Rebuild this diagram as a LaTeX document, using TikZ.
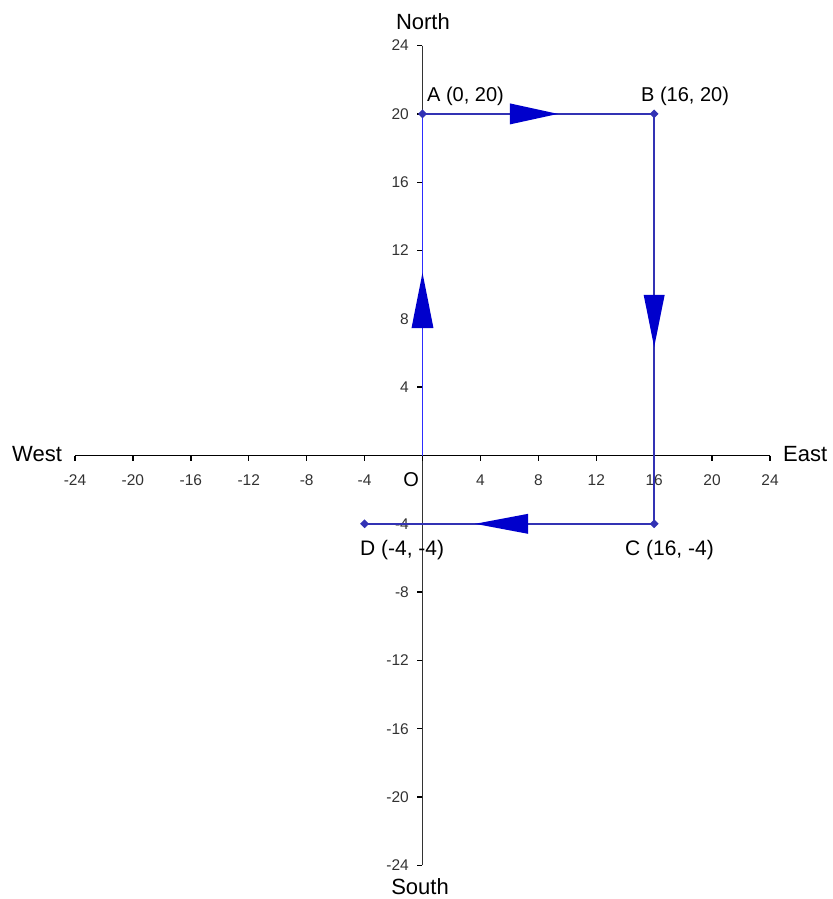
\documentclass[tikz,border=0pt]{standalone}
\usepackage{fontspec}
\setmainfont{Liberation Sans}
\usetikzlibrary{shapes.geometric}
\definecolor{routeblue}{RGB}{50,50,180}
\definecolor{oablue}{RGB}{45,45,255}
\definecolor{headblue}{RGB}{0,0,204}
\definecolor{ticktext}{RGB}{50,50,50}
\begin{document}
\begin{tikzpicture}[x=14.48pt,y=17.08pt,
  axisline/.style={line width=1.8pt,black},
  yaxisline/.style={line width=1.8pt,black!80},
  tickmark/.style={line width=1.4pt,black},
  ticklab/.style={font=\fontsize{15.5}{15.5}\selectfont,text=ticktext,inner sep=0pt},
  dirlab/.style={font=\fontsize{22}{22}\selectfont,inner sep=0pt},
  ptlab/.style={font=\fontsize{21}{21}\selectfont,inner sep=0pt,anchor=base west},
  route/.style={line width=1.8pt,routeblue},
  oaroute/.style={line width=1.8pt,oablue},
  headfill/.style={fill=headblue},
  mk/.style={diamond,fill=routeblue,inner sep=0pt,minimum size=9pt}]
\useasboundingbox (-29.178,-25.966) rectangle (28.349,26.669);
% axes
\coordinate (xl) at (-24,0);
\coordinate (xr) at (24,0);
\coordinate (yt) at (0,24);
\coordinate (yb) at (0,-24);
\draw[axisline] (xl) -- (xr);
\draw[yaxisline] (yt) -- (yb);
\foreach \v in {-24,-20,...,24}{
  \draw[tickmark] (\v,0) -- ++(0,-5pt);
  \draw[tickmark] (0,\v) -- ++(-5pt,0);
}
\foreach \v in {-24,-20,-16,-12,-8,-4,4,8,12,16,20,24}{
  \node[ticklab] at ([yshift=-25pt]\v,0) {\v};
  \node[ticklab,anchor=east] at ([xshift=-13.5pt]0,\v) {\v};
}
% direction labels
\node[dirlab] (north) at (0.03,25.38) {North};
\node[dirlab] (south) at (-0.17,-25.26) {South};
\node[dirlab,anchor=west] (west) at (-28.35,0.09) {West};
\node[dirlab,anchor=west] (east) at (24.9,0.09) {East};
\node[font=\fontsize{20}{20}\selectfont,inner sep=0pt] (olab) at (-0.79,-1.43) {O};
% route
\coordinate (O) at (0,0);
\coordinate (A) at (0,20);
\coordinate (B) at (16,20);
\coordinate (C) at (16,-4);
\coordinate (D) at (-4,-4);
\draw[oaroute] (O) -- (A);
\draw[route] (A) -- (B) -- (C) -- (D);
\node[mk] (mA) at (A) {};
\node[mk] (mB) at (B) {};
\node[mk] (mC) at (C) {};
\node[mk] (mD) at (D) {};
% arrowheads
\fill[headfill] (6.04,20) ++(0,10.5pt) -- ++(0,-21pt) -- (9.36,20) -- cycle;
\fill[headfill] (16,9.4) ++(-10.5pt,0) -- ++(21pt,0) -- (16,6.35) -- cycle;
\fill[headfill] (0,7.46) ++(-11pt,0) -- ++(22pt,0) -- (0,10.7) -- cycle;
\fill[headfill] (7.29,-4) ++(0,10pt) -- ++(0,-20pt) -- (3.63,-4) -- cycle;
% point labels
\node[ptlab,font=\fontsize{20}{20}\selectfont] (la) at (0.31,20.70) {A (0, 20)};
\node[ptlab,font=\fontsize{20}{20}\selectfont] (lb) at (15.09,20.71) {B (16, 20)};
\node[ptlab] (ld) at (-4.32,-5.83) {D (-4, -4)};
\node[ptlab] (lc) at (13.98,-5.83) {C (16, -4)};
\end{tikzpicture}
\end{document}
